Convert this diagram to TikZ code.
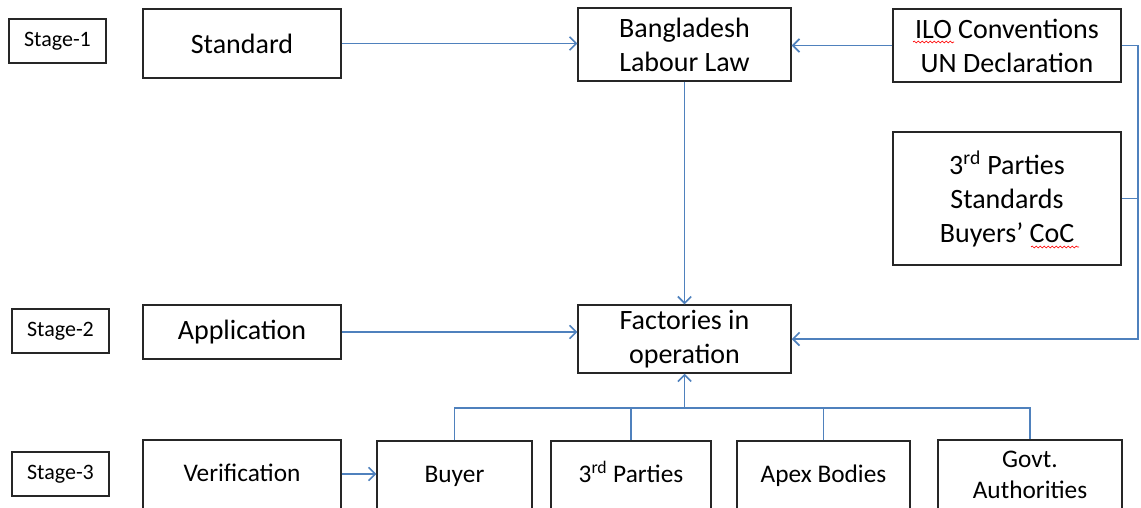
\documentclass[tikz,border=0pt]{standalone}
\usepackage{fontspec}
\setmainfont{Carlito}
\usetikzlibrary{arrows.meta,decorations.pathmorphing}
\definecolor{connc}{RGB}{79,129,189}
\definecolor{edgec}{RGB}{38,38,38}
\begin{document}
\begin{tikzpicture}[x=0.75pt,y=-0.75pt,
  box/.style={draw=edgec, line width=1.1pt, align=center, inner sep=0pt, text=black},
  big/.style={font=\fontsize{21}{25.5}\selectfont},
  mid/.style={font=\fontsize{19}{23.5}\selectfont},
  small/.style={font=\fontsize{16.5}{20}\selectfont},
  oneline/.style={text height=13pt, text depth=4pt},
  conn/.style={draw=connc, line width=1.2pt},
  arr/.style={conn, -{Straight Barb[length=5pt,width=10pt]}},
  squig/.style={draw=red, line width=0.5pt, decorate, decoration={snake, segment length=3pt, amplitude=0.7pt}}]
\useasboundingbox (0,0) rectangle (1141,507);
\clip (0,0) rectangle (1141,507);
% stage labels
\node[box,small,minimum width=72.75pt,minimum height=33pt] (s1) at (57.5,41) {Stage-1};
\node[box,small,minimum width=72.75pt,minimum height=33pt] (s2) at (60.5,331) {Stage-2};
\node[box,small,minimum width=72.75pt,minimum height=33pt] (s3) at (60.5,474) {Stage-3};
% left column
\node[box,big,minimum width=148.5pt,minimum height=51.75pt] (std) at (242,43.5) {Standard};
\node[box,big,minimum width=148.5pt,minimum height=40.5pt] (app) at (242,332) {Application};
\node[box,mid,oneline,minimum width=148.5pt,minimum height=53.25pt] (ver) at (242,475.5) {Verification};
% centre column
\node[box,big,minimum width=159.75pt,minimum height=54.75pt] (bl) at (684.5,44.5) {Bangladesh\\Labour Law};
\node[box,big,minimum width=159.75pt,minimum height=51pt] (fac) at (684.5,339) {Factories in\\operation};
% right column
\node[box,big,minimum width=171pt,minimum height=54.75pt] (ilo) at (1007,45.5) {ILO Conventions\\UN Declaration};
\node[box,big,minimum width=171pt,minimum height=99.75pt] (tps) at (1007,198.5) {3\textsuperscript{rd} Parties\\Standards\\Buyers’ CoC};
% bottom row
\node[box,mid,oneline,minimum width=116.25pt,minimum height=52.5pt] (buy) at (454.5,476) {Buyer};
\node[box,mid,oneline,minimum width=120pt,minimum height=52.5pt] (tp) at (631,476) {3\textsuperscript{rd} Parties};
\node[box,mid,oneline,minimum width=129.75pt,minimum height=52.5pt] (apx) at (823.5,476) {Apex Bodies};
\node[box,mid,minimum width=138pt,minimum height=52.5pt] (gov) at (1030,475) {Govt.\\Authorities};
% connectors
\coordinate (rt) at (1138,0);
\coordinate (bus) at (0,408);
\draw[arr] (std.east) -- (std.east -| bl.west);
\draw[arr] (ilo.west) -- (bl.east |- ilo.west);
\draw[arr] (bl.south) -- (fac.north);
\draw[arr] (app.east) -- (app.east -| fac.west);
\draw[arr] (ilo.east) -- (ilo.east -| rt) -- (rt |- fac.east) -- (fac.east);
\draw[conn] (tps.east) -- (tps.east -| rt);
\draw[arr] (ver.east |- buy.center) ++(0,-2) coordinate (vb) (ver.east |- vb) -- (buy.west |- vb);
\draw[conn] (buy.north) -- (buy.north |- bus) -- (gov.north |- bus) -- (gov.north);
\draw[conn] (tp.north) -- (tp.north |- bus);
\draw[conn] (apx.north) -- (apx.north |- bus);
\draw[arr] (fac.south |- bus) -- (fac.south);
% spell-check marks
\draw[squig] (913,42) -- (954,42);
\draw[squig] (1031,247) -- (1079,247);
\end{tikzpicture}
\end{document}
